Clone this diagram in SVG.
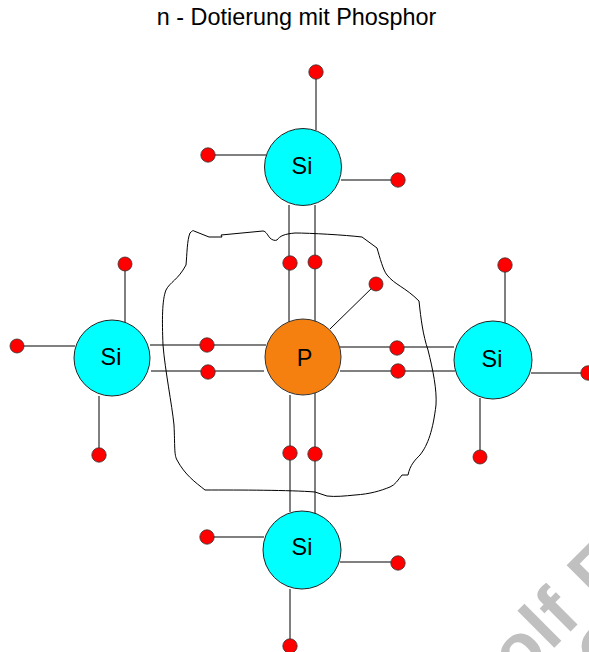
<svg xmlns="http://www.w3.org/2000/svg" width="589" height="652" viewBox="0 0 589 652">
<style>
text{font-family:"Liberation Sans",Arial,sans-serif;fill:#000}
.l{font-size:23.400px;text-anchor:middle}
.c line,.c path{stroke:#000;stroke-width:1;fill:none}
.e{fill:#f00;stroke:#333;stroke-width:.8}
.si{fill:#0ff;stroke:#222;stroke-width:1}
.wm{font-size:72px;font-weight:bold;fill:#c0c0c0}
</style>
<rect width="589" height="652" fill="#fff"/>
<text class="wm" transform="translate(519,683) rotate(-45)" letter-spacing="1">olf F</text>
<text class="wm" transform="translate(606,684) rotate(-45)">C</text>
<text class="l" x="296.500" y="25">n - Dotierung mit Phosphor</text>
<g id="connectors" class="c">
<line x1="316" y1="72" x2="316" y2="130"/>
<line x1="208" y1="155" x2="266" y2="155"/>
<line x1="341" y1="180" x2="398" y2="180"/>
<line x1="289" y1="205" x2="289" y2="322"/>
<line x1="315" y1="205" x2="315" y2="322"/>
<line x1="125" y1="264" x2="125" y2="322"/>
<line x1="17" y1="346" x2="75" y2="346"/>
<line x1="99" y1="396" x2="99" y2="455"/>
<line x1="150" y1="345" x2="266" y2="345"/>
<line x1="151" y1="371" x2="264" y2="371"/>
<line x1="340" y1="347" x2="454" y2="347"/>
<line x1="340" y1="371" x2="455" y2="371"/>
<line x1="330" y1="329" x2="376" y2="284"/>
<line x1="505" y1="265" x2="505" y2="323"/>
<line x1="531" y1="373" x2="589" y2="373"/>
<line x1="480" y1="398" x2="480" y2="457"/>
<line x1="290" y1="395" x2="290" y2="512"/>
<line x1="315" y1="393" x2="315" y2="514"/>
<line x1="207" y1="537" x2="264" y2="537"/>
<line x1="340" y1="562" x2="398" y2="562"/>
<line x1="290" y1="589" x2="290" y2="646"/>
<path d="M190 233C192 231 193 230 194 231L209 237H222L221 235L263 231C266 231 268 236 270 238C272 240 275 241 277 240C280 236 284 234 295 233C310 233 345 235 362 237L377 248C380 258 383 270 387 275C395 285 405 287 419 301C421 320 423 335 428 350C433 370 437 390 436 405C433 430 428 445 420 455C415 460 410 465 408 475H402C398 480 395 485 390 487C380 491 370 494 355 495C345 496 335 497 327 496L315 492C290 490 240 490 205 490C195 482 185 475 177 460C174 455 175 445 174 425C172 405 165 370 163 345C162 320 162 300 166 290C170 282 178 280 186 265C187 255 187 240 190 233Z"/>
</g>
<g id="si-top"><circle class="si" cx="303" cy="167" r="38.500"/><text class="l" x="302" y="174">Si</text></g>
<g id="si-left"><circle class="si" cx="112" cy="358" r="38"/><text class="l" x="111" y="365">Si</text></g>
<g id="si-right"><circle class="si" cx="493" cy="360" r="39"/><text class="l" x="492" y="367">Si</text></g>
<g id="si-bottom"><circle class="si" cx="302" cy="550" r="39"/><text class="l" x="302" y="555">Si</text></g>
<g id="p"><circle cx="303" cy="357" r="38" fill="#f5800f" stroke="#333" stroke-width="1"/><text class="l" x="304.500" y="366">P</text></g>
<g id="electrons">
<circle class="e" cx="316" cy="72" r="7.200"/>
<circle class="e" cx="208" cy="155" r="7.200"/>
<circle class="e" cx="398" cy="180" r="7.200"/>
<circle class="e" cx="290" cy="263" r="7.200"/>
<circle class="e" cx="315" cy="262" r="7"/>
<circle class="e" cx="376" cy="284" r="7"/>
<circle class="e" cx="125" cy="264" r="7"/>
<circle class="e" cx="17" cy="346" r="7"/>
<circle class="e" cx="207" cy="345" r="7.200"/>
<circle class="e" cx="208" cy="372" r="7.200"/>
<circle class="e" cx="397" cy="348" r="7.200"/>
<circle class="e" cx="398" cy="371" r="7.200"/>
<circle class="e" cx="505" cy="265" r="7.200"/>
<circle class="e" cx="588" cy="373" r="7.200"/>
<circle class="e" cx="99" cy="455" r="7.200"/>
<circle class="e" cx="480" cy="457" r="7"/>
<circle class="e" cx="290" cy="453" r="7.200"/>
<circle class="e" cx="315" cy="454" r="7.200"/>
<circle class="e" cx="207" cy="537" r="7.200"/>
<circle class="e" cx="398" cy="563" r="7.200"/>
<circle class="e" cx="290" cy="646" r="7.200"/>
</g>
</svg>
